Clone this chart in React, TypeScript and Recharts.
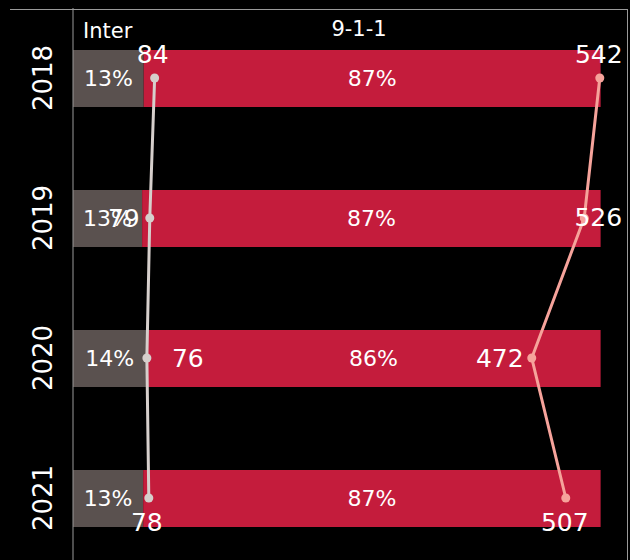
import React from "react";
import {
  ComposedChart,
  Bar,
  Line,
  XAxis,
  YAxis,
  LabelList,
} from "recharts";

const years = ["2018", "2019", "2020", "2021"];
const interCalls = [84, 79, 76, 78];
const e911Calls = [542, 526, 472, 507];
const interShare = [0.134, 0.131, 0.139, 0.133];
const e911Share = [0.866, 0.869, 0.861, 0.867];

const data = years.map((year, i) => ({
  year,
  interCalls: interCalls[i],
  e911Calls: e911Calls[i],
  interShare: interShare[i],
  e911Share: e911Share[i],
}));

// label offsets from each point, in px
const interLabelOffsets = [
  [-2, -24],
  [-26, 0],
  [41, 0],
  [-2, 24],
];
const e911LabelOffsets = [
  [-1, -24],
  [14, -1],
  [-32, 0],
  [-1, 24],
];

const GREY = "#5a514f";
const RED = "#c41c3c";
const INTER_LINE = "#d6cfcc";
const E911_LINE = "#f6a39b";
const FRAME = "#9a9a9a";

const pointLabel = (offsets: number[][]) => (props: any) => {
  const { x, y, value, index } = props;
  const o = offsets[index] || [0, 0];
  return (
    <text
      x={x + o[0]}
      y={y + o[1]}
      textAnchor="middle"
      dominantBaseline="central"
      fill="#fff"
      fontSize={25}
    >
      {value}
    </text>
  );
};

const YearTick = (props: any) => {
  const { y, payload } = props;
  return (
    <text
      x={43}
      y={y}
      transform={`rotate(-90, 43, ${y})`}
      textAnchor="middle"
      dominantBaseline="central"
      fill="#fff"
      fontSize={26}
    >
      {payload.value}
    </text>
  );
};

const pct = (v: any) => `${Math.round(Number(v) * 100)}%`;

export default function App() {
  return (
    <div
      style={{
        position: "absolute",
        top: 0,
        left: 0,
        width: 630,
        height: 560,
        overflow: "hidden",
        background: "#000",
        fontFamily: "'DejaVu Sans', sans-serif",
      }}
    >
      <ComposedChart
        width={630}
        height={568}
        data={data}
        layout="vertical"
        margin={{ top: 8, right: 3, left: 0, bottom: 0 }}
      >
        <XAxis xAxisId="pct" type="number" domain={[0, 1.05]} hide />
        <XAxis xAxisId="cnt" type="number" domain={[0, 570]} hide />
        <YAxis
          type="category"
          dataKey="year"
          width={73}
          axisLine={{ stroke: FRAME }}
          tickLine={false}
          tick={<YearTick />}
        />
        <Bar
          xAxisId="pct"
          dataKey="interShare"
          stackId="a"
          fill={GREY}
          barSize={57}
          isAnimationActive={false}
        >
          <LabelList
            dataKey="interShare"
            position="center"
            formatter={pct}
            fill="#fff"
            fontSize={22}
          />
        </Bar>
        <Bar
          xAxisId="pct"
          dataKey="e911Share"
          stackId="a"
          fill={RED}
          barSize={57}
          isAnimationActive={false}
        >
          <LabelList
            dataKey="e911Share"
            position="center"
            formatter={pct}
            fill="#fff"
            fontSize={22}
          />
        </Bar>
        <Line
          xAxisId="cnt"
          dataKey="interCalls"
          stroke={INTER_LINE}
          strokeWidth={3}
          dot={{ r: 4.5, fill: INTER_LINE, stroke: INTER_LINE, strokeWidth: 0 }}
          activeDot={false}
          isAnimationActive={false}
        >
          <LabelList dataKey="interCalls" content={pointLabel(interLabelOffsets)} />
        </Line>
        <Line
          xAxisId="cnt"
          dataKey="e911Calls"
          stroke={E911_LINE}
          strokeWidth={3}
          dot={{ r: 4.5, fill: E911_LINE, stroke: E911_LINE, strokeWidth: 0 }}
          activeDot={false}
          isAnimationActive={false}
        >
          <LabelList dataKey="e911Calls" content={pointLabel(e911LabelOffsets)} />
        </Line>
      </ComposedChart>

      {/* frame lines */}
      <div style={{ position: "absolute", top: 9, left: 10, width: 618, height: 1, background: FRAME }} />
      <div style={{ position: "absolute", top: 9, left: 627, width: 1, height: 560, background: FRAME }} />

      {/* column headers */}
      <div style={{ position: "absolute", top: 18, left: 83, color: "#fff", fontSize: 21, lineHeight: "26px" }}>
        Inter
      </div>
      <div style={{ position: "absolute", top: 16, left: 309, width: 100, textAlign: "center", color: "#fff", fontSize: 21, lineHeight: "26px" }}>
        9-1-1
      </div>
    </div>
  );
}
